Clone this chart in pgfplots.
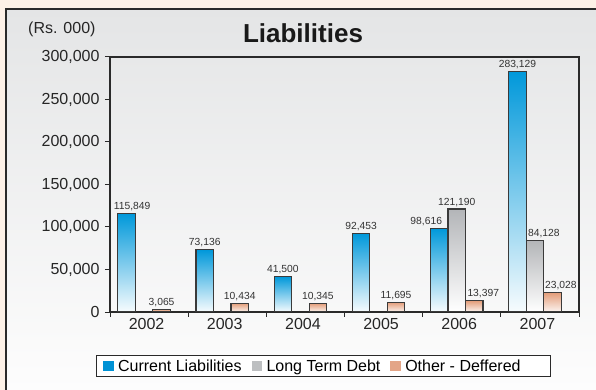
\documentclass[border=0pt]{standalone}
\usepackage{fontspec}
\setmainfont{Liberation Sans}
\usepackage{pgfplots}
\pgfplotsset{compat=1.18}
\definecolor{peach}{HTML}{FDF1E7}
\definecolor{panelTop}{HTML}{E4E5E6}
\definecolor{panelBot}{HTML}{FDFDFD}
\definecolor{frame}{HTML}{2A2A2A}
\definecolor{edge}{HTML}{3A3A3A}
\definecolor{cblue}{HTML}{0098DA}
\definecolor{cgray}{HTML}{B3B5B8}
\definecolor{corange}{HTML}{E39C78}
\definecolor{cblueL}{HTML}{0092D5}
\definecolor{cgrayL}{HTML}{BDBFC1}
\definecolor{corangeL}{HTML}{E3A587}
\definecolor{lab}{HTML}{333333}

\pgfplotsset{
  barbase/.style={ybar, forget plot, bar width=17.5bp, draw=edge, line width=1.1bp, nodes near coords},
  bl/.style={barbase, bar shift=-22.5bp, top color=cblue, middle color=cblue!72!white, bottom color=cblue!3!white,
    every node near coord/.append style={xshift=-22.5bp}},
  gr/.style={barbase, bar shift=-5bp, top color=cgray, middle color=cgray!55!white, bottom color=white,
    every node near coord/.append style={xshift=-5bp}},
  or/.style={barbase, bar shift=12.5bp, top color=corange, middle color=corange!55!white, bottom color=corange!10!white,
    every node near coord/.append style={xshift=12.5bp}},
  dx/.style={every node near coord/.append style={xshift=#1}},
}

\begin{document}
\begin{tikzpicture}
\useasboundingbox (0,0) rectangle (596bp,390bp);
\fill[peach] (0,0) rectangle (596bp,390bp);
\shade[top color=panelTop, bottom color=panelBot] (6.2bp,0) rectangle (596bp,381bp);
\draw[line width=2.2bp, color=frame] (6.2bp,0) -- (6.2bp,381bp) -- (596bp,381bp);
\filldraw[fill=white, draw=frame, line width=0.8bp] (96bp,35bp) rectangle (550bp,13.3bp);
\node[anchor=base, inner sep=0, font=\bfseries\fontsize{26bp}{30bp}\selectfont, text=black!90] at (303bp,347.3bp) {Liabilities};
\node[anchor=base east, inner sep=0, font=\fontsize{16bp}{18bp}\selectfont, text=black!85] at (95.7bp,356.5bp) {(Rs. 000)};
\begin{axis}[
  at={(110bp,78bp)}, anchor=south west,
  width=469bp, height=255bp, scale only axis,
  xmin=-0.5, xmax=5.5, ymin=0, ymax=300000,
  axis line style={draw=frame, line width=1.1bp},
  tick align=outside, xtick pos=bottom, ytick pos=left,
  tick style={draw=frame, line width=1bp},
  major tick length=5bp,
  ytick={0,50000,100000,150000,200000,250000,300000},
  scaled y ticks=false,
  xtick={-0.5,0.5,1.5,2.5,3.5,4.5,5.5},
  xticklabels={},
  extra x ticks={0,1,2,3,4,5},
  extra x tick labels={2002,2003,2004,2005,2006,2007},
  extra x tick style={major tick length=0pt, xticklabel style={xshift=-2.5bp, yshift=-3bp}},
  /pgf/number format/fixed, /pgf/number format/precision=0,
  /pgf/number format/1000 sep={,},
  /pgf/number format/assume math mode=true,
  ticklabel style={font=\fontsize{16bp}{18bp}\selectfont, text=black!85},
  yticklabel style={xshift=-2bp},
  nodes near coords style={font=\fontsize{10.3bp}{12bp}\selectfont, text=lab, inner sep=2bp},
  legend columns=3,
  legend style={at={(-0.0299,-0.2118)}, anchor=west, draw=none, fill=none,
    font=\fontsize{16bp}{18bp}\selectfont, inner ysep=1bp, inner xsep=7bp,
    /tikz/every odd column/.append style={column sep=3bp},
    /tikz/every even column/.append style={column sep=8bp}},
  legend cell align=left,
]
% Current Liabilities
\addplot[bl, dx=5.5bp] coordinates {(0,115849)};
\addplot[bl] coordinates {(1,73136)};
\addplot[bl] coordinates {(2,41500)};
\addplot[bl] coordinates {(3,92453)};
\addplot[bl, dx=-13bp] coordinates {(4,98616)};
\addplot[bl] coordinates {(5,283129)};
% Long Term Debt
\addplot[gr] coordinates {(4,121190)};
\addplot[gr, dx=9bp] coordinates {(5,84128)};
% Other - Deffered
\addplot[or] coordinates {(0,3065)};
\addplot[or] coordinates {(1,10434)};
\addplot[or] coordinates {(2,10345)};
\addplot[or] coordinates {(3,11695)};
\addplot[or, dx=9bp] coordinates {(4,13397)};
\addplot[or, dx=8.5bp] coordinates {(5,23028)};
\addlegendimage{legend image code/.code={\fill[cblueL] (0bp,-4.5bp) rectangle (9.5bp,4.5bp);}}
\addlegendentry{Current Liabilities}
\addlegendimage{legend image code/.code={\fill[cgrayL] (0bp,-4.5bp) rectangle (9.5bp,4.5bp);}}
\addlegendentry{Long Term Debt}
\addlegendimage{legend image code/.code={\fill[corangeL] (0bp,-4.5bp) rectangle (9.5bp,4.5bp);}}
\addlegendentry{Other - Deffered}
\end{axis}
\end{tikzpicture}
\end{document}
